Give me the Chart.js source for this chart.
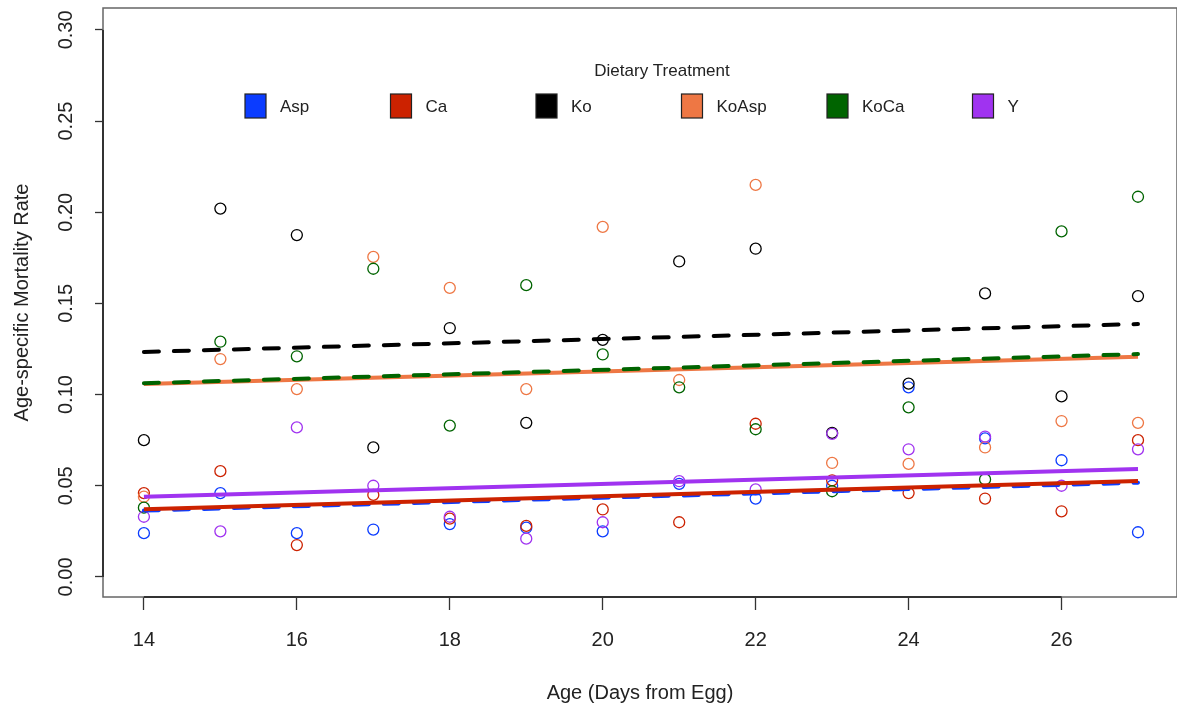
<!DOCTYPE html>
<html lang="en">
<head>
    <meta charset="UTF-8">
    <title>Age-specific Mortality Rate by Dietary Treatment</title>
    <script src="https://cdn.jsdelivr.net/npm/chart.js"></script>
    <style>
        body { margin: 0; background: #fff; }
        #wrap { width: 1177px; height: 715px; }
    </style>
</head>
<body>
<div id="wrap"><canvas id="mortalityChart"></canvas></div>

<script>
// data
const days = [14, 15, 16, 17, 18, 19, 20, 21, 22, 23, 24, 25, 26, 27];
const treatments = ['Asp', 'Ca', 'Ko', 'KoAsp', 'KoCa', 'Y'];
const colors = ['#0b3cff', '#cc2200', '#000000', '#ee7744', '#006400', '#a033f0'];

const aspRate   = [0.024, 0.046, 0.024, 0.026, 0.029, 0.027, 0.025, 0.051, 0.043, 0.050, 0.104, 0.076, 0.064, 0.0245];
const caRate    = [0.046, 0.058, 0.0175, 0.045, 0.032, 0.028, 0.037, 0.030, 0.084, 0.053, 0.046, 0.043, 0.036, 0.075];
const koRate    = [0.075, 0.202, 0.1875, 0.071, 0.1365, 0.0845, 0.130, 0.173, 0.180, 0.079, 0.106, 0.1555, 0.099, 0.154];
const koAspRate = [0.044, 0.1195, 0.103, 0.1755, 0.1585, 0.103, 0.192, 0.108, 0.215, 0.0625, 0.062, 0.071, 0.0855, 0.0845];
const koCaRate  = [0.038, 0.129, 0.121, 0.169, 0.083, 0.160, 0.122, 0.104, 0.081, 0.047, 0.093, 0.0535, 0.1895, 0.2085];
const yRate     = [0.033, 0.025, 0.082, 0.050, 0.033, 0.021, 0.030, 0.0525, 0.048, 0.0785, 0.070, 0.077, 0.050, 0.070];

// fitted trend lines: value at day 14 and at day 27
const fitDays  = [14, 27];
const fitStart = [0.0364, 0.0371, 0.1234, 0.1058, 0.1062, 0.0440];
const fitEnd   = [0.0517, 0.0526, 0.1387, 0.1208, 0.1222, 0.0592];
const fitDashed = [true, false, true, false, true, false];

const xTicks = [14, 16, 18, 20, 22, 24, 26];
const yTicks = [0, 0.05, 0.10, 0.15, 0.20, 0.25, 0.30];
const yTickLabels = ['0.00', '0.05', '0.10', '0.15', '0.20', '0.25', '0.30'];

const rates = [aspRate, caRate, koRate, koAspRate, koCaRate, yRate];
const FONT = '"Liberation Sans", Arial, sans-serif';

const datasets = [];
treatments.forEach((name, i) => {
    datasets.push({
        type: 'scatter',
        label: name,
        data: days.map((d, j) => ({ x: d, y: rates[i][j] })),
        borderColor: colors[i],
        backgroundColor: 'transparent',
        pointRadius: 5.5,
        pointHoverRadius: 5.5,
        pointBorderWidth: 1.3,
        order: 20 - i
    });
});
treatments.forEach((name, i) => {
    datasets.push({
        type: 'line',
        label: name + ' fit',
        data: fitDays.map((d, j) => ({ x: d, y: j === 0 ? fitStart[i] : fitEnd[i] })),
        borderColor: colors[i],
        borderWidth: 4,
        borderDash: fitDashed[i] ? [15, 15] : [],
        borderCapStyle: fitDashed[i] ? 'round' : 'butt',
        pointRadius: 0,
        fill: false,
        order: 10 - i
    });
});

function noPad(s) {
    s.paddingTop = 0;
    s.paddingBottom = 0;
    s.paddingLeft = 0;
    s.paddingRight = 0;
}

// R style box and axis lines
const boxPlugin = {
    id: 'box',
    beforeDatasetsDraw(chart) {
        const ctx = chart.ctx;
        const a = chart.chartArea;
        const xs = chart.scales.x, ys = chart.scales.y;
        ctx.save();
        ctx.strokeStyle = '#666';
        ctx.lineWidth = 1.5;
        ctx.strokeRect(a.left, a.top, a.right - a.left, a.bottom - a.top);
        ctx.strokeStyle = '#333';
        ctx.lineWidth = 2;
        ctx.beginPath();
        ctx.moveTo(xs.getPixelForValue(xTicks[0]), a.bottom);
        ctx.lineTo(xs.getPixelForValue(xTicks[xTicks.length - 1]), a.bottom);
        ctx.moveTo(a.left, ys.getPixelForValue(yTicks[0]));
        ctx.lineTo(a.left, ys.getPixelForValue(yTicks[yTicks.length - 1]));
        ctx.stroke();
        ctx.restore();
    }
};

// legend laid out in equal columns, like R's legend(horiz=TRUE)
const legendPlugin = {
    id: 'rLegend',
    afterDraw(chart) {
        const ctx = chart.ctx;
        ctx.save();
        ctx.fillStyle = '#222';
        ctx.font = '17px ' + FONT;
        ctx.textAlign = 'center';
        ctx.textBaseline = 'middle';
        ctx.fillText('Dietary Treatment', 662, 71);
        ctx.textAlign = 'left';
        treatments.forEach((name, i) => {
            const x = 245 + i * 145.5;
            ctx.fillStyle = colors[i];
            ctx.fillRect(x, 94, 21, 24);
            ctx.strokeStyle = '#222';
            ctx.lineWidth = 1.2;
            ctx.strokeRect(x, 94, 21, 24);
            ctx.fillStyle = '#222';
            ctx.fillText(name, x + 35, 107);
        });
        ctx.restore();
    }
};

new Chart(document.getElementById('mortalityChart'), {
    data: { datasets: datasets },
    options: {
        responsive: true,
        maintainAspectRatio: false,
        animation: false,
        layout: { autoPadding: false, padding: { top: 8, right: 0, left: 0, bottom: 0 } },
        plugins: {
            legend: { display: false },
            tooltip: { enabled: false }
        },
        scales: {
            x: {
                type: 'linear',
                min: 13.465,
                max: 27.51,
                afterBuildTicks: s => { s.ticks = xTicks.map(v => ({ value: v })); },
                afterFit: s => { s.height = 118; noPad(s); },
                border: { display: false },
                grid: { drawOnChartArea: false, tickLength: 13, tickColor: '#333', tickWidth: 1.3 },
                ticks: { color: '#222', font: { family: FONT, size: 20 }, padding: 18, maxRotation: 0 },
                title: {
                    display: true,
                    text: 'Age (Days from Egg)',
                    color: '#222',
                    font: { family: FONT, size: 20 },
                    padding: { bottom: 10 }
                }
            },
            y: {
                type: 'linear',
                min: -0.011,
                max: 0.312,
                afterBuildTicks: s => { s.ticks = yTicks.map(v => ({ value: v })); },
                afterFit: s => { s.width = 103; noPad(s); },
                border: { display: false },
                grid: { drawOnChartArea: false, tickLength: 8, tickColor: '#333', tickWidth: 1.3 },
                ticks: {
                    color: '#222',
                    font: { family: FONT, size: 20 },
                    minRotation: 90,
                    maxRotation: 90,
                    crossAlign: 'center',
                    padding: 9,
                    callback: (v, i) => yTickLabels[i]
                },
                title: {
                    display: true,
                    text: 'Age-specific Mortality Rate',
                    color: '#222',
                    font: { family: FONT, size: 20 },
                    padding: { top: 10 }
                }
            }
        }
    },
    plugins: [boxPlugin, legendPlugin]
});
</script>
</body>
</html>
